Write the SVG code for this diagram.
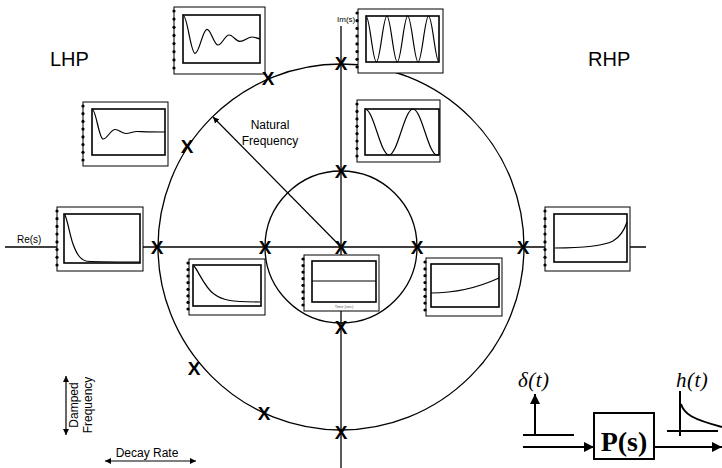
<svg xmlns="http://www.w3.org/2000/svg" xmlns:xlink="http://www.w3.org/1999/xlink" width="722" height="468" viewBox="0 0 722 468">
<style>
.axis{stroke:#000;stroke-width:1.3;fill:none}
.circ{stroke:#000;stroke-width:1.3;fill:none}
.frame{fill:#fff;stroke:#000;stroke-width:1}
.inner{fill:#fff;stroke:#000;stroke-width:1.6}
.curve{fill:none;stroke:#000;stroke-width:1.2}
.dot{fill:#000}
.pole{font-family:"Liberation Sans",Arial,sans-serif;font-weight:bold;font-size:19px;text-anchor:middle;fill:#000}
.lbl{font-family:"Liberation Sans",Arial,sans-serif;fill:#000}
.thin{stroke:#000;stroke-width:1.2;fill:none}
.thick{stroke:#000;stroke-width:2;fill:none}
.math{font-family:"Liberation Serif","Times New Roman",serif;font-style:italic;font-size:21px;fill:#000;letter-spacing:0.5px}
.tiny{font-family:"Liberation Sans",Arial,sans-serif;font-size:4px;fill:#555;text-anchor:middle}
</style>
<defs>
<marker id="ahs" viewBox="0 0 10 10" refX="10" refY="5" markerWidth="5" markerHeight="6" markerUnits="strokeWidth" orient="auto-start-reverse"><path d="M0,0 L10,5 L0,10 z" fill="#000"/></marker>
<marker id="ahb" viewBox="0 0 10 10" refX="10" refY="5" markerWidth="5" markerHeight="5" markerUnits="strokeWidth" orient="auto"><path d="M0,0 L10,5 L0,10 z" fill="#000"/></marker>
</defs>
<rect width="722" height="468" fill="#fff"/>

<g id="connectors">
<line class="axis" x1="341" y1="26" x2="341" y2="468"/>
<line class="axis" x1="5" y1="247" x2="646" y2="247"/>
<circle class="circ" cx="341" cy="247" r="183"/>
<circle class="circ" cx="341" cy="247" r="76"/>
<line class="thin" x1="341" y1="247" x2="213" y2="117" marker-end="url(#ahs)"/>
<line class="thin" x1="66" y1="376" x2="66" y2="435" marker-start="url(#ahs)" marker-end="url(#ahs)"/>
<line class="thin" x1="105" y1="461" x2="196" y2="461" marker-start="url(#ahs)" marker-end="url(#ahs)"/>
</g>

<g id="plot-topleft">
<rect class="frame" x="174" y="7" width="91" height="67"/>
<rect class="inner" x="183" y="15" width="77" height="48"/>
<path class="curve" d="M183,15 C187.4,15 190.6,53.4 195,53.4 C199.4,53.4 202.6,29.4 207,29.4 C211,29.4 214,45 218,45 C222,45 225,35 229,35 C233,35 236,41.4 240,41.4 C244.4,41.4 247.6,37 252,37 C255,37 257,38.5 260,38.8"/>
<g class="dot"><circle cx="174" cy="11" r="1.6"/><circle cx="174" cy="19.1" r="1.6"/><circle cx="174" cy="27.3" r="1.6"/><circle cx="174" cy="35.4" r="1.6"/><circle cx="174" cy="43.6" r="1.6"/><circle cx="174" cy="51.7" r="1.6"/><circle cx="174" cy="59.9" r="1.6"/><circle cx="174" cy="68" r="1.6"/></g>
</g>

<g id="plot-topright">
<rect class="frame" x="358" y="9" width="85" height="64"/>
<rect class="inner" x="366" y="16" width="73" height="46"/>
<path class="curve" d="M366,16 C369.8,16 372.6,62 376.4,62 C380.2,62 383.1,16 386.9,16 C390.7,16 393.5,62 397.3,62 C401.1,62 403.9,16 407.7,16 C411.5,16 414.3,62 418.1,62 C421.9,62 424.8,16 428.6,16 C432.4,16 435.2,62 439,62"/>
<g class="dot"><circle cx="357" cy="13" r="1.6"/><circle cx="357" cy="20.7" r="1.6"/><circle cx="357" cy="28.4" r="1.6"/><circle cx="357" cy="36.1" r="1.6"/><circle cx="357" cy="43.9" r="1.6"/><circle cx="357" cy="51.6" r="1.6"/><circle cx="357" cy="59.3" r="1.6"/><circle cx="357" cy="67" r="1.6"/></g>
</g>

<g id="plot-left">
<rect class="frame" x="83" y="102" width="85" height="64"/>
<rect class="inner" x="92" y="109" width="73" height="46"/>
<path class="curve" d="M92,109 C96,109 99,139 103,139 C107.4,139 110.6,129.5 115,129.5 C119,129.5 122,133.5 126,133.5 C130,133.5 133,131.5 137,131.5 C141,131.5 145,132 165,132"/>
<g class="dot"><circle cx="83" cy="106" r="1.6"/><circle cx="83" cy="113.7" r="1.6"/><circle cx="83" cy="121.4" r="1.6"/><circle cx="83" cy="129.1" r="1.6"/><circle cx="83" cy="136.9" r="1.6"/><circle cx="83" cy="144.6" r="1.6"/><circle cx="83" cy="152.3" r="1.6"/><circle cx="83" cy="160" r="1.6"/></g>
</g>

<g id="plot-midright">
<rect class="frame" x="357" y="100" width="83" height="62"/>
<rect class="inner" x="365" y="109" width="74" height="46"/>
<path class="curve" d="M365,109 C373.7,109 380.3,155 389,155 C397.7,155 404.3,109 413,109 C421.7,109 428.3,155 437,155 C437.7,155 438.3,154.9 439,154.7"/>
<g class="dot"><circle cx="357" cy="104" r="1.6"/><circle cx="357" cy="111.4" r="1.6"/><circle cx="357" cy="118.9" r="1.6"/><circle cx="357" cy="126.3" r="1.6"/><circle cx="357" cy="133.7" r="1.6"/><circle cx="357" cy="141.1" r="1.6"/><circle cx="357" cy="148.6" r="1.6"/><circle cx="357" cy="156" r="1.6"/></g>
</g>

<g id="plot-re">
<rect class="frame" x="57" y="207" width="86" height="64"/>
<rect class="inner" x="64" y="214" width="76" height="49"/>
<path class="curve" d="M65,215 C68,222 70,236 73,244 C76,252 79,259 86,261 C90,262 95,262 140,262"/>
<g class="dot"><circle cx="57" cy="211" r="1.6"/><circle cx="57" cy="218.7" r="1.6"/><circle cx="57" cy="226.4" r="1.6"/><circle cx="57" cy="234.1" r="1.6"/><circle cx="57" cy="241.9" r="1.6"/><circle cx="57" cy="249.6" r="1.6"/><circle cx="57" cy="257.3" r="1.6"/><circle cx="57" cy="265" r="1.6"/></g>
</g>

<g id="plot-midleft">
<rect class="frame" x="189" y="259" width="76" height="56"/>
<rect class="inner" x="193" y="265" width="68" height="41"/>
<path class="curve" d="M194,266 C199,272 205,288 214,294 C222,300 230,302 260,302"/>
<g class="dot"><circle cx="188" cy="263" r="1.6"/><circle cx="188" cy="269.6" r="1.6"/><circle cx="188" cy="276.1" r="1.6"/><circle cx="188" cy="282.7" r="1.6"/><circle cx="188" cy="289.3" r="1.6"/><circle cx="188" cy="295.9" r="1.6"/><circle cx="188" cy="302.4" r="1.6"/><circle cx="188" cy="309" r="1.6"/></g>
</g>

<g id="plot-center">
<rect class="frame" x="304" y="255" width="75" height="56"/>
<rect class="inner" x="312" y="261" width="64" height="41"/>
<path class="curve" d="M312,281 H376"/>
<text class="tiny" x="344" y="308">Time (sec)</text>
<g class="dot"><circle cx="303" cy="259" r="1.6"/><circle cx="303" cy="265.6" r="1.6"/><circle cx="303" cy="272.1" r="1.6"/><circle cx="303" cy="278.7" r="1.6"/><circle cx="303" cy="285.3" r="1.6"/><circle cx="303" cy="291.9" r="1.6"/><circle cx="303" cy="298.4" r="1.6"/><circle cx="303" cy="305" r="1.6"/></g>
</g>

<g id="plot-lowright">
<rect class="frame" x="426" y="258" width="76" height="58"/>
<rect class="inner" x="431" y="264" width="68" height="43"/>
<path class="curve" d="M431,293 C452,293 475,289 499,278"/>
<g class="dot"><circle cx="425" cy="262" r="1.6"/><circle cx="425" cy="268.9" r="1.6"/><circle cx="425" cy="275.7" r="1.6"/><circle cx="425" cy="282.6" r="1.6"/><circle cx="425" cy="289.4" r="1.6"/><circle cx="425" cy="296.3" r="1.6"/><circle cx="425" cy="303.1" r="1.6"/><circle cx="425" cy="310" r="1.6"/></g>
</g>

<g id="plot-right">
<rect class="frame" x="545" y="207" width="85" height="64"/>
<rect class="inner" x="554" y="214" width="73" height="48"/>
<path class="curve" d="M555,248 C585,248 603,246 613,241 C620,237 624,231 627,222"/>
<g class="dot"><circle cx="545" cy="211" r="1.6"/><circle cx="545" cy="218.7" r="1.6"/><circle cx="545" cy="226.4" r="1.6"/><circle cx="545" cy="234.1" r="1.6"/><circle cx="545" cy="241.9" r="1.6"/><circle cx="545" cy="249.6" r="1.6"/><circle cx="545" cy="257.3" r="1.6"/><circle cx="545" cy="265" r="1.6"/></g>
</g>

<g id="poles">
<text class="pole" x="157" y="254">X</text>
<text class="pole" x="265" y="254">X</text>
<text class="pole" x="341" y="254">X</text>
<text class="pole" x="417" y="254">X</text>
<text class="pole" x="523" y="254">X</text>
<text class="pole" x="341" y="70">X</text>
<text class="pole" x="341" y="178">X</text>
<text class="pole" x="341" y="334">X</text>
<text class="pole" x="341" y="439">X</text>
<text class="pole" x="268" y="85">X</text>
<text class="pole" x="187" y="153">X</text>
<text class="pole" x="194" y="375">X</text>
<text class="pole" x="264" y="420">X</text>
</g>

<g id="labels">
<text class="lbl" x="50" y="66" font-size="20">LHP</text>
<text class="lbl" x="588" y="66" font-size="20">RHP</text>
<text class="lbl" x="337" y="22" font-size="8">Im(s)</text>
<text class="lbl" x="17" y="243" font-size="10">Re(s)</text>
<text class="lbl" x="270" y="129" font-size="12" text-anchor="middle">Natural</text>
<text class="lbl" x="270" y="145" font-size="12" text-anchor="middle">Frequency</text>
<text class="lbl" font-size="12" text-anchor="middle" transform="translate(78,405) rotate(-90)">Damped</text>
<text class="lbl" font-size="12" text-anchor="middle" transform="translate(92,405) rotate(-90)">Frequency</text>
<text class="lbl" x="147" y="457" font-size="12" text-anchor="middle">Decay Rate</text>
</g>

<g id="block-diagram">
<text class="math" x="518" y="387">δ(t)</text>
<line class="thick" x1="523" y1="435" x2="574" y2="435"/>
<line class="thick" x1="535" y1="435" x2="535" y2="394" marker-end="url(#ahb)"/>
<line class="thick" x1="523" y1="447" x2="594" y2="447" marker-end="url(#ahb)"/>
<rect x="594" y="413" width="60" height="46" fill="#fff" stroke="#000" stroke-width="2"/>
<text x="624" y="451" font-family="'Liberation Serif','Times New Roman',serif" font-weight="bold" font-size="28" text-anchor="middle">P(s)</text>
<line class="thick" x1="654" y1="447" x2="722" y2="447" marker-end="url(#ahb)"/>
<text class="math" x="676" y="387">h(t)</text>
<line class="thick" x1="680" y1="391" x2="680" y2="436"/>
<line class="thick" x1="667" y1="431" x2="718" y2="431"/>
<path class="thick" d="M681,404 C684,414 692,419 722,427"/>
</g>
</svg>
